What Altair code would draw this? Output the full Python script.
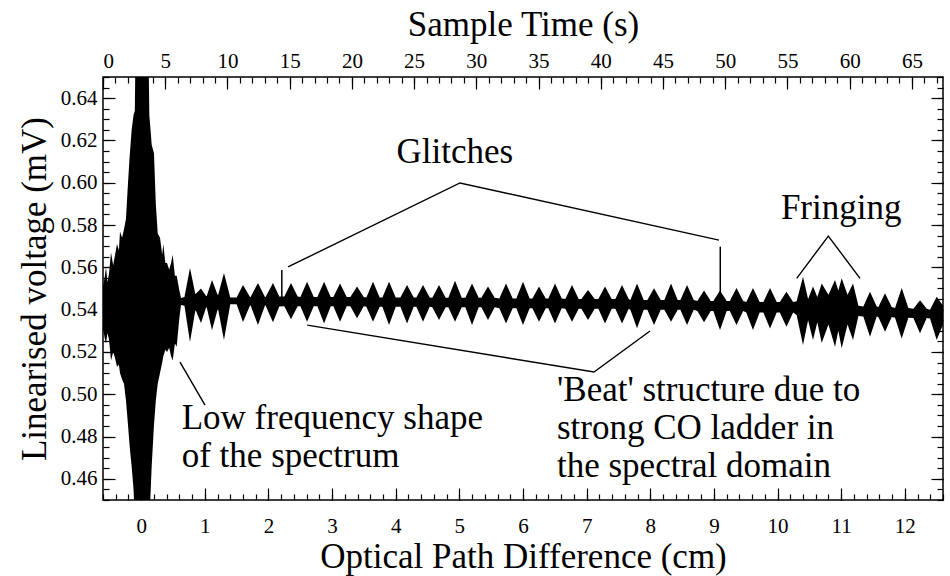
import altair as alt
import pandas as pd

FONT = "'Liberation Serif', 'Times New Roman', Times, serif"

# Interferogram envelope near zero path difference: OPD (cm), upper and lower bound (mV)
core_opd = [
    -0.600, -0.570, -0.553, -0.530, -0.506, -0.474, -0.440, -0.410, -0.380, -0.350,
    -0.333, -0.300, -0.270, -0.239, -0.207, -0.180, -0.150, -0.120, -0.100, -0.075,
    0.100, 0.128, 0.150, 0.165, 0.201, 0.230, 0.260, 0.296, 0.330, 0.348,
    0.380, 0.406, 0.440, 0.470, 0.495, 0.530, 0.558, 0.600, 0.626,
]
core_hi = [
    0.5510, 0.5560, 0.5600, 0.5530, 0.5570, 0.5670, 0.5610, 0.5660, 0.5710, 0.5680,
    0.5770, 0.5740, 0.5780, 0.5830, 0.6000, 0.6130, 0.6250, 0.6320, 0.6340, 0.7000,
    0.7000, 0.6320, 0.6240, 0.6180, 0.6140, 0.5900, 0.5760, 0.5740, 0.5660, 0.5710,
    0.5620, 0.5620, 0.5590, 0.5620, 0.5660, 0.5560, 0.5560, 0.5490, 0.5455,
]
core_lo = [
    0.5310, 0.5260, 0.5240, 0.5290, 0.5260, 0.5160, 0.5200, 0.5170, 0.5130, 0.5140,
    0.5100, 0.5070, 0.5050, 0.4970, 0.4855, 0.4750, 0.4660, 0.4550, 0.4400, 0.4000,
    0.4000, 0.4400, 0.4550, 0.4660, 0.4855, 0.4970, 0.5050, 0.5100, 0.5150, 0.5180,
    0.5210, 0.5200, 0.5220, 0.5180, 0.5160, 0.5240, 0.5225, 0.5360, 0.5422,
]

# Irregular bursts just after the centre burst
early_opd = [
    0.680, 0.767, 0.850, 0.860, 0.940, 1.020, 1.030, 1.113, 1.200, 1.210,
    1.301, 1.400, 1.500, 1.600, 1.710, 1.720, 1.835, 1.945, 1.955, 2.071,
    2.170,
]
early_hi = [
    0.5460, 0.5597, 0.5475, 0.5475, 0.5500, 0.5465, 0.5465, 0.5540, 0.5470, 0.5470,
    0.5573, 0.5458, 0.5458, 0.5517, 0.5460, 0.5460, 0.5526, 0.5460, 0.5460, 0.5526,
    0.5462,
]
early_lo = [
    0.5418, 0.5247, 0.5395, 0.5395, 0.5337, 0.5410, 0.5410, 0.5303, 0.5400, 0.5400,
    0.5257, 0.5425, 0.5425, 0.5342, 0.5420, 0.5420, 0.5327, 0.5420, 0.5420, 0.5340,
    0.5415,
]

# Regular 'beat' bursts: centre (cm), peak bounds and the quiet level either side (mV)
beat_halfwidth = 0.105
beat_centre = [
    2.354, 2.607, 2.874, 3.125, 3.392, 3.643, 3.895, 4.178, 4.429, 4.680,
    4.932, 5.199, 5.450, 5.733, 6.000, 6.252, 6.503, 6.770, 7.022, 7.289,
    7.556, 7.792, 8.059, 8.326, 8.578, 8.845, 9.096, 9.355, 9.614, 9.882,
    10.140,
]
beat_hi = [
    0.5526, 0.5532, 0.5532, 0.5524, 0.5509, 0.5532, 0.5532, 0.5517, 0.5517, 0.5517,
    0.5537, 0.5524, 0.5509, 0.5524, 0.5532, 0.5509, 0.5524, 0.5517, 0.5493, 0.5509,
    0.5517, 0.5524, 0.5501, 0.5524, 0.5517, 0.5490, 0.5490, 0.5502, 0.5502, 0.5502,
    0.5485,
]
beat_lo = [
    0.5355, 0.5343, 0.5335, 0.5343, 0.5359, 0.5343, 0.5327, 0.5335, 0.5343, 0.5351,
    0.5343, 0.5327, 0.5351, 0.5335, 0.5327, 0.5343, 0.5335, 0.5343, 0.5351, 0.5335,
    0.5335, 0.5312, 0.5327, 0.5343, 0.5327, 0.5340, 0.5304, 0.5327, 0.5304, 0.5311,
    0.5319,
]
beat_quiet_hi = [
    0.5462, 0.5460, 0.5460, 0.5460, 0.5460, 0.5458, 0.5458, 0.5458, 0.5458, 0.5456,
    0.5456, 0.5456, 0.5456, 0.5453, 0.5453, 0.5453, 0.5453, 0.5450, 0.5450, 0.5450,
    0.5450, 0.5446, 0.5446, 0.5446, 0.5446, 0.5441, 0.5441, 0.5441, 0.5436, 0.5436,
    0.5436,
]
beat_quiet_lo = [
    0.5416, 0.5416, 0.5416, 0.5416, 0.5416, 0.5414, 0.5414, 0.5414, 0.5414, 0.5411,
    0.5411, 0.5411, 0.5411, 0.5407, 0.5407, 0.5407, 0.5407, 0.5404, 0.5404, 0.5404,
    0.5404, 0.5399, 0.5399, 0.5399, 0.5399, 0.5394, 0.5394, 0.5394, 0.5387, 0.5387,
    0.5387,
]

# Fringing region
fringe_opd = [10.300, 10.400, 10.480, 10.557, 10.625, 10.694, 10.800, 10.903, 10.955, 11.008,
              11.100, 11.186, 11.271]
fringe_hi = [0.5440, 0.5556, 0.5450, 0.5509, 0.5460, 0.5524, 0.5470, 0.5540, 0.5490, 0.5548,
             0.5470, 0.5524, 0.5418]
fringe_lo = [0.5375, 0.5233, 0.5350, 0.5257, 0.5340, 0.5242, 0.5330, 0.5225, 0.5300, 0.5218,
             0.5330, 0.5257, 0.5370]

# Last bursts up to the end of the scan
tail_opd = [11.348, 11.453, 11.558, 11.584, 11.689, 11.794, 11.846, 11.951, 12.056,
            12.134, 12.239, 12.344, 12.396, 12.501, 12.600]
tail_hi = [0.5415, 0.5485, 0.5415, 0.5412, 0.5478, 0.5412, 0.5408, 0.5502, 0.5408,
           0.5404, 0.5445, 0.5404, 0.5400, 0.5461, 0.5420]
tail_lo = [0.5368, 0.5272, 0.5368, 0.5365, 0.5296, 0.5365, 0.5362, 0.5264, 0.5362,
           0.5360, 0.5289, 0.5360, 0.5358, 0.5257, 0.5330]

# Single-sample glitches
glitch_opd = [2.21, 9.10]
glitch_top = [0.5588, 0.5698]
glitch_base = [0.5436, 0.5410]

# Tick positions
opd_major = list(range(0, 13))
opd_minor = [round(-0.6 + 0.2 * i, 1) for i in range(67)]
volt_major = [0.46, 0.48, 0.50, 0.52, 0.54, 0.56, 0.58, 0.60, 0.62, 0.64]
volt_minor = [round(0.45 + 0.005 * i, 3) for i in range(41)]
time_major = list(range(0, 70, 5))
time_minor = list(range(0, 68))
time_range = [0, 67.5]

# Annotation text
note_text = ["Glitches", "Fringing", "Low frequency shape", "of the spectrum",
             "'Beat' structure due to", "strong CO ladder in", "the spectral domain"]
note_opd = [4.93, 11.00, 0.637, 0.637, 6.534, 6.534, 6.534]
note_volt = [0.6093, 0.5829, 0.4836, 0.4656, 0.4968, 0.4788, 0.4609]
note_align = ["center", "center", "left", "left", "left", "left", "left"]

# Annotation pointer lines (polyline id, vertex order, position)
ptr_id = [0, 0, 0, 1, 1, 1, 2, 2, 2, 3, 3]
ptr_ord = [0, 1, 2, 0, 1, 2, 0, 1, 2, 0, 1]
ptr_opd = [2.307, 5.010, 9.080, 10.301, 10.798, 11.296, 2.610, 7.116, 7.996, 0.610, 1.003]
ptr_volt = [0.5602, 0.5999, 0.5729, 0.5548, 0.5748, 0.5548, 0.5327, 0.5105, 0.5299, 0.5152, 0.4949]

# Assemble the envelope in OPD order
beat_opd, beat_up, beat_dn = [], [], []
for c, h, l, qh, ql in zip(beat_centre, beat_hi, beat_lo, beat_quiet_hi, beat_quiet_lo):
    beat_opd += [c - beat_halfwidth, c, c + beat_halfwidth]
    beat_up += [qh, h, qh]
    beat_dn += [ql, l, ql]

env = pd.DataFrame({
    "opd": core_opd + early_opd + beat_opd + fringe_opd + tail_opd,
    "hi": core_hi + early_hi + beat_up + fringe_hi + tail_hi,
    "lo": core_lo + early_lo + beat_dn + fringe_lo + tail_lo,
})
glitches = pd.DataFrame({"opd": glitch_opd, "top": glitch_top, "base": glitch_base})
notes = pd.DataFrame({"opd": note_opd, "volt": note_volt, "text": note_text, "align": note_align})
ptrs = pd.DataFrame({"id": ptr_id, "ord": ptr_ord, "opd": ptr_opd, "volt": ptr_volt})
tdf = pd.DataFrame({"t": time_range})

xs = alt.Scale(domain=[-0.6, 12.6], nice=False, zero=False)
ys = alt.Scale(domain=[0.45, 0.65], nice=False, zero=False)
ts = alt.Scale(domain=time_range, nice=False, zero=False)

common = dict(domain=False, grid=False, tickColor="black", tickWidth=1.2)

# Axis layers (ticks drawn inward by pulling each axis inside the frame)
ax_main = alt.Chart(env).mark_point(opacity=0).encode(
    x=alt.X("opd:Q", scale=xs, axis=alt.Axis(
        orient="bottom", values=opd_major, tickSize=12, offset=-12, format="d",
        labelPadding=15, title="Optical Path Difference (cm)", titlePadding=3, **common)),
    y=alt.Y("hi:Q", scale=ys, axis=alt.Axis(
        orient="left", values=volt_major, tickSize=12, offset=-12, format=".2f",
        labelPadding=6, title="Linearised voltage (mV)", titlePadding=8, **common)),
)
ax_minor = alt.Chart(env).mark_point(opacity=0).encode(
    x=alt.X("opd:Q", scale=xs, axis=alt.Axis(
        orient="bottom", values=opd_minor, tickSize=6, offset=-6, labels=False, title="", **common)),
    y=alt.Y("hi:Q", scale=ys, axis=alt.Axis(
        orient="left", values=volt_minor, tickSize=6, offset=-6, labels=False, title="", **common)),
)
ax_right = alt.Chart(env).mark_point(opacity=0).encode(
    x=alt.X("opd:Q", scale=xs, axis=None),
    y=alt.Y("hi:Q", scale=ys, axis=alt.Axis(
        orient="right", values=volt_major, tickSize=12, offset=-12, labels=False, title="", **common)),
)
ax_right_minor = alt.Chart(env).mark_point(opacity=0).encode(
    x=alt.X("opd:Q", scale=xs, axis=None),
    y=alt.Y("hi:Q", scale=ys, axis=alt.Axis(
        orient="right", values=volt_minor, tickSize=6, offset=-6, labels=False, title="", **common)),
)
ax_top = alt.Chart(tdf).mark_point(opacity=0).encode(
    x=alt.X("t:Q", scale=ts, axis=alt.Axis(
        orient="top", values=time_major, tickSize=12, offset=-12, format="d",
        labelPadding=6, title="Sample Time (s)", titlePadding=8, **common)),
)
ax_top_minor = alt.Chart(tdf).mark_point(opacity=0).encode(
    x=alt.X("t:Q", scale=ts, axis=alt.Axis(
        orient="top", values=time_minor, tickSize=6, offset=-6, labels=False, title="", **common)),
)

signal = alt.Chart(env).mark_area(color="black", clip=True).encode(
    x=alt.X("opd:Q", scale=xs, axis=None),
    y=alt.Y("hi:Q", scale=ys, axis=None),
    y2="lo:Q",
)
spikes = alt.Chart(glitches).mark_rule(color="black", strokeWidth=1.5).encode(
    x=alt.X("opd:Q", scale=xs, axis=None),
    y=alt.Y("top:Q", scale=ys, axis=None),
    y2="base:Q",
)
pointers = alt.Chart(ptrs).mark_line(color="black", strokeWidth=1.4).encode(
    x=alt.X("opd:Q", scale=xs, axis=None),
    y=alt.Y("volt:Q", scale=ys, axis=None),
    detail="id:N",
    order="ord:Q",
)
labels_left = alt.Chart(notes[notes["align"] == "left"]).mark_text(
    align="left", baseline="alphabetic", font=FONT, fontSize=35, color="black").encode(
    x=alt.X("opd:Q", scale=xs, axis=None),
    y=alt.Y("volt:Q", scale=ys, axis=None),
    text="text:N",
)
labels_center = alt.Chart(notes[notes["align"] == "center"]).mark_text(
    align="center", baseline="alphabetic", font=FONT, fontSize=35, color="black").encode(
    x=alt.X("opd:Q", scale=xs, axis=None),
    y=alt.Y("volt:Q", scale=ys, axis=None),
    text="text:N",
)

chart = alt.layer(
    ax_main, ax_minor, ax_right, ax_right_minor, ax_top, ax_top_minor,
    signal, spikes, pointers, labels_left, labels_center,
).resolve_scale(
    x="independent", y="independent"
).properties(
    width=840, height=423,
    autosize=alt.AutoSizeParams(type="none"),
    padding={"left": 103, "top": 77, "right": 7, "bottom": 76},
    background="white",
).configure_view(
    stroke="black", strokeWidth=1.5
).configure_axis(
    labelFont=FONT, titleFont=FONT, labelFontSize=21, titleFontSize=35,
    labelColor="black", titleColor="black", titleFontWeight="normal",
)

chart.save("out.html", embed_options={"renderer": "svg", "actions": False})
